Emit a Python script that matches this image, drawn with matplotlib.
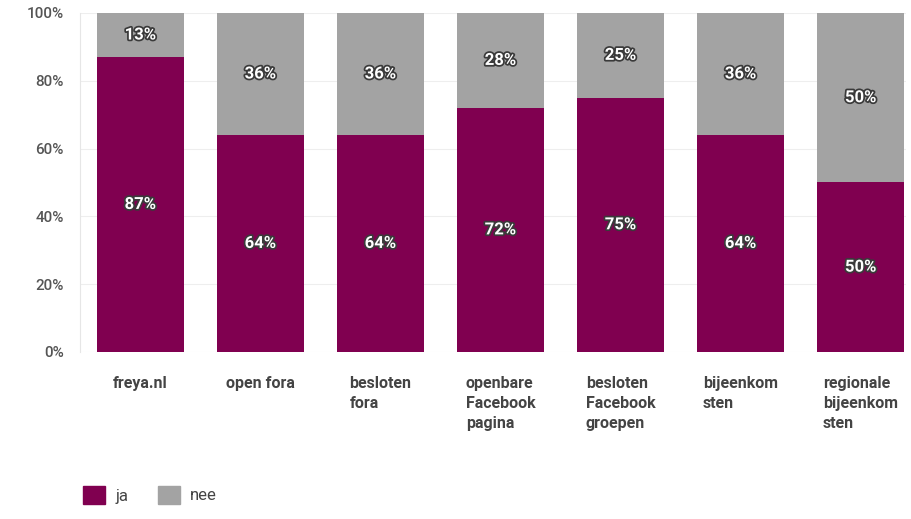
import numpy as np
import matplotlib
matplotlib.use('Agg')
from matplotlib import pyplot as plt
from matplotlib import patheffects as pe
from matplotlib.patches import Patch

# categories and values (percent)
categories = ['freya.nl', 'open fora', 'besloten\nfora', 'openbare\nFacebook\npagina',
              'besloten\nFacebook\ngroepen', 'bijeenkom\nsten', 'regionale\nbijeenkom\nsten']
ja = [87, 64, 64, 72, 75, 64, 50]
nee = [13, 36, 36, 28, 25, 36, 50]
yticks = [0, 20, 40, 60, 80, 100]

ja_color = '#800050'
nee_color = '#a3a3a3'
txt_color = '#555555'

plt.rcParams['font.family'] = ['Roboto', 'DejaVu Sans']

fig = plt.figure(figsize=(9.12, 5.19), dpi=100)
ax = fig.add_axes([0.088, 0.322, 0.905, 0.653])

x = np.arange(len(categories))
ax.bar(x, ja, width=0.72, color=ja_color, zorder=2)
ax.bar(x, nee, width=0.72, bottom=ja, color=nee_color, zorder=2)

# value labels, white with dark outline
outline = [pe.withStroke(linewidth=2.5, foreground='#3a3a3a')]
for i in range(len(categories)):
    ax.text(x[i], ja[i] / 2, f'{ja[i]}%', ha='center', va='center', color='white',
            fontsize=12, fontweight='bold', path_effects=outline, zorder=3)
    ax.text(x[i], ja[i] + nee[i] / 2, f'{nee[i]}%', ha='center', va='center', color='white',
            fontsize=12, fontweight='bold', path_effects=outline, zorder=3)

ax.set_xlim(-0.5, len(categories) - 0.625)
ax.set_ylim(0, 100)
ax.set_yticks(yticks)
ax.set_yticklabels([f'{v}%' for v in yticks], fontsize=11, color=txt_color, fontweight='medium')
ax.yaxis.grid(True, color='#eeeeee', linewidth=0.8, zorder=0)
ax.tick_params(axis='y', length=0, pad=12)
ax.tick_params(axis='x', length=0, pad=0)
ax.set_xticks(x)
ax.set_xticklabels([])
for s in ['top', 'right', 'bottom']:
    ax.spines[s].set_visible(False)
ax.spines['left'].set_color('#e6e6e6')

# category labels, left-aligned block centered under bar
for i, c in enumerate(categories):
    ax.text(x[i], -7, c, ha='center', va='top', multialignment='left', fontsize=11.5,
            fontweight='bold', color='#444444', linespacing=1.45,
            transform=ax.transData)

handles = [Patch(color=ja_color, label='ja'), Patch(color=nee_color, label='nee')]
fig.legend(handles=handles, loc='lower left', bbox_to_anchor=(0.075, 0.0), ncol=2,
           frameon=False, fontsize=12, handlelength=1.3, handleheight=1.3,
           columnspacing=1.8, handletextpad=0.6, labelcolor='#444444')

plt.savefig('out.png', dpi=100)
